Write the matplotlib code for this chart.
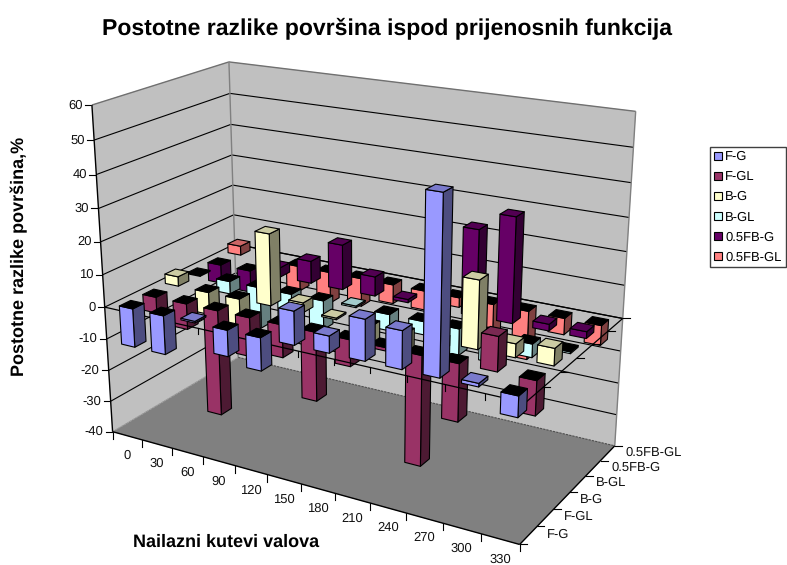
import numpy as np
import matplotlib
matplotlib.use("Agg")
import matplotlib.pyplot as plt
from matplotlib.patches import Patch, Polygon

plt.rcParams['font.family'] = ['Liberation Sans', 'DejaVu Sans']
plt.rcParams['text.hinting'] = 'no_hinting'
plt.rcParams['text.hinting_factor'] = 1

title = "Postotne razlike površina ispod prijenosnih funkcija"
ylabel = "Postotne razlike površina,%"
xlabel = "Nailazni kutevi valova"
angles = [0, 30, 60, 90, 120, 150, 180, 210, 240, 270, 300, 330]
series_names = ["F-G", "F-GL", "B-G", "B-GL", "0.5FB-G", "0.5FB-GL"]
colors = ["#9999FF", "#993366", "#FFFFCC", "#CCFFFF", "#660066", "#FF8080"]
z_ticks = [-40, -30, -20, -10, 0, 10, 20, 30, 40, 50, 60]

f_g = [-12, -12, 0.5, -8, -10, 10, 5, 12, 11, 50, 1, -6]
f_gl = [-5, -8, -33, -12, -10, -21, -8, -1, -33, -17, 10, -10]
b_g = [3, -7, -10, 22, 3, 0.5, -6, -6, -3, 20, 4, 5]
b_gl = [-0.3, -4, -13, -8, -9, 0.5, -5, -4, -8, -8, -4, -0.5]
fb_g = [-6, -7, 3, 7, 14, 6, 1, 1, 26, 31.5, 2, 2]
fb_gl = [3, -0.5, -8, -10, -9, -6, -6, -3, -10, -15, -5, -6]
all_series = [f_g, f_gl, b_g, b_gl, fb_g, fb_gl]

# camera calibration: world (category, row, percent) -> picture pixel
world_pts = [(0,0,60),(0,6,60),(12,6,60),(0,0,-40),(0,6,-40),(12,6,-40),(12,0,-40),
             (0,0,0),(12,0,0),(12,6,0),(0,6,0)]
pixel_pts = [(92,104),(229,62),(634,112),(113,432),(238,357),(613,445),(519,545),
             (105,307),(525,403),(627,318),(234,245)]
A = []
for (X, Y, Z), (u, v) in zip(world_pts, pixel_pts):
    A.append([X, Y, Z/10, 1, 0, 0, 0, 0, -u*X, -u*Y, -u*Z/10, -u])
    A.append([0, 0, 0, 0, X, Y, Z/10, 1, -v*X, -v*Y, -v*Z/10, -v])
P = np.linalg.svd(np.array(A, float))[2][-1].reshape(3, 4)

def proj(x, y, z):
    h = P @ np.array([x, y, z/10, 1.0])
    return h[0]/h[2], h[1]/h[2]

def pts(*corners):
    return [proj(*c) for c in corners]

fig = plt.figure(figsize=(7.87, 5.65), dpi=100)
ax = fig.add_axes([0, 0, 1, 1])
ax.set_xlim(0, 787)
ax.set_ylim(565, 0)
ax.axis('off')

zo = [2]
def poly(corners, fc, ec='black', lw=0.8):
    zo[0] += 1
    ax.add_patch(Polygon(pts(*corners), closed=True, facecolor=fc, edgecolor=ec,
                         linewidth=lw, zorder=zo[0], joinstyle='round'))

def line(a, b, color='black', lw=0.8, ls='-'):
    zo[0] += 1
    p, q = proj(*a), proj(*b)
    ax.plot([p[0], q[0]], [p[1], q[1]], color=color, lw=lw, ls=ls, zorder=zo[0],
            solid_capstyle='butt')

nx, ny = len(angles), len(series_names)
zmin, zmax = z_ticks[0], z_ticks[-1]
wall = "#C0C0C0"
floor = "#808080"
poly([(0,0,zmin),(0,ny,zmin),(0,ny,zmax),(0,0,zmax)], wall, ec=wall, lw=0.3)
poly([(0,ny,zmin),(nx,ny,zmin),(nx,ny,zmax),(0,ny,zmax)], wall, ec=wall, lw=0.3)
poly([(0,0,zmin),(nx,0,zmin),(nx,ny,zmin),(0,ny,zmin)], floor, ec=floor, lw=0.3)

for z in z_ticks[1:-1]:
    line((0,0,z), (0,ny,z))
    line((0,ny,z), (nx,ny,z))
line((0,0,zmax), (0,ny,zmax), color='#707070', lw=1.0)
line((0,ny,zmax), (nx,ny,zmax), color='#707070', lw=1.0)
line((0,ny,zmin), (0,ny,zmax), color='#808080', lw=1.0)
line((nx,ny,zmin), (nx,ny,zmax), color='#808080', lw=1.0)
line((0,0,zmin), (0,ny,zmin), color='#A0A0A0', lw=0.8, ls=(0, (2, 1)))
line((0,ny,zmin), (nx,ny,zmin), color='#505050', lw=0.8, ls=(0, (2, 1)))
line((0,0,zmin), (nx,0,zmin), lw=1.0)
line((nx,0,zmin), (nx,ny,zmin), lw=1.0)
line((0,0,zmin), (0,0,zmax), lw=1.0)

# percent axis ticks and labels
for z in z_ticks:
    u, v = proj(0, 0, z)
    ax.plot([u-7, u], [v, v], color='black', lw=0.8, zorder=2)
    ax.text(u-9, v, str(z), ha='right', va='center', fontsize=9.2, color='#111111')

# floor ticks and labels
for i in range(nx+1):
    u, v = proj(i, 0, zmin)
    ax.plot([u, u], [v, v+7], color='black', lw=0.8, zorder=2)
for i, a in enumerate(angles):
    u, v = proj(i+0.5, 0, zmin)
    ax.text(u, v+20, str(a), ha='center', va='center', fontsize=9.2, color='#111111')
for j in range(ny+1):
    u, v = proj(nx, j, zmin)
    ax.plot([u, u+7], [v, v], color='black', lw=0.8, zorder=2)
for j, s in enumerate(series_names):
    u, v = proj(nx, j+0.5, zmin)
    ax.text(u+18, v-1, s, ha='left', va='center', fontsize=9.2, color='#111111')

half_w = 0.22
half_d = 0.24

def shade(c, f):
    r = np.array(matplotlib.colors.to_rgb(c))*f
    return tuple(r)

def bar(i, j, v, c):
    x0, x1 = i+0.5-half_w, i+0.5+half_w
    y0, y1 = j+0.5-half_d, j+0.5+half_d
    poly([(x1,y0,0),(x1,y1,0),(x1,y1,v),(x1,y0,v)], shade(c, 0.5))
    poly([(x0,y0,0),(x1,y0,0),(x1,y0,v),(x0,y0,v)], c)
    top = shade(c, 0.8) if v > 0 else 'black'
    z = max(v, 0)
    poly([(x0,y0,z),(x1,y0,z),(x1,y1,z),(x0,y1,z)], top)

def zero_frame():
    line((0,0,0), (nx,0,0), lw=0.9)
    line((nx,0,0), (nx,ny,0), lw=0.9)
    for i in range(1, nx):
        u, v = proj(i, 0, 0)
        zo[0] += 1
        ax.plot([u, u], [v, v+6], color='black', lw=0.8, zorder=zo[0])
    for j in range(1, ny+1):
        u, v = proj(nx, j, 0)
        zo[0] += 1
        ax.plot([u, u+7], [v, v], color='black', lw=0.8, zorder=zo[0])

line((0,ny,0), (nx,ny,0), lw=0.9)
for j in range(ny-1, -1, -1):
    if j == 0:
        zero_frame()
    for i in range(nx):
        bar(i, j, all_series[j][i], colors[j])

ax.text(387, 28, title, ha='center', va='center', fontsize=16.5, fontweight='bold')
ax.text(19, 256, ylabel, ha='center', va='center', rotation=90, fontsize=13.1, fontweight='bold')
ax.text(226, 542, xlabel, ha='center', va='center', fontsize=13.1, fontweight='bold')

handles = [Patch(facecolor=c, edgecolor='black', linewidth=0.8) for c in colors]
leg = ax.legend(handles, series_names, loc='upper left', bbox_to_anchor=(710, 147),
                bbox_transform=ax.transData, borderaxespad=0, fontsize=9.2, fancybox=False,
                edgecolor='#404040', framealpha=1, handlelength=0.65, handleheight=0.65,
                handletextpad=0.25, labelspacing=0.62, borderpad=0.3)
leg.get_frame().set_linewidth(1.0)
leg.set_zorder(1000)

fig.savefig("out.png", dpi=100)
